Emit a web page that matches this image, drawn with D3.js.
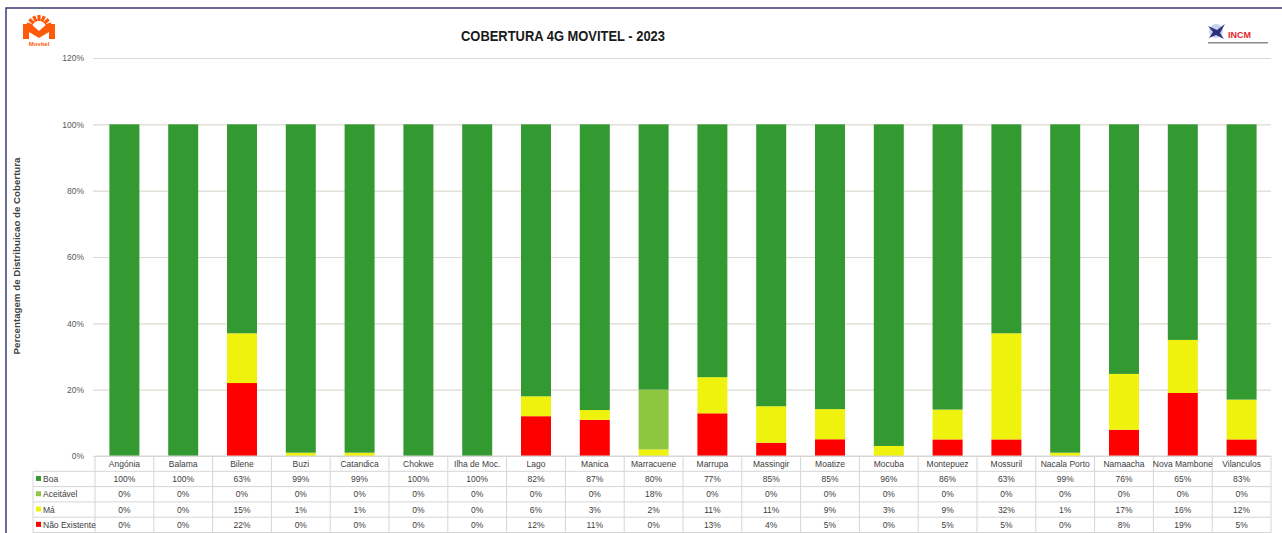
<!DOCTYPE html>
<html>
<head>
<meta charset="utf-8">
<script src="https://cdn.jsdelivr.net/npm/d3@7"></script>
<style>
  body { margin: 0; background: #fff; }
  svg { display: block; }
</style>
</head>
<body>
<div class="chart"></div>
<script>
// ======================================
// data
// ======================================
var categories = ["Angónia", "Balama", "Bilene", "Buzi", "Catandica", "Chokwe", "Ilha de Moc.", "Lago", "Manica", "Marracuene",
   "Marrupa", "Massingir", "Moatize", "Mocuba", "Montepuez", "Mossuril", "Nacala Porto", "Namaacha", "Nova Mambone", "Vilanculos"];
var boa          = [100, 100, 63, 99, 99, 100, 100, 82, 87, 80, 77, 85, 85, 96, 86, 63, 99, 76, 65, 83];
var aceitavel    = [0, 0, 0, 0, 0, 0, 0, 0, 0, 18, 0, 0, 0, 0, 0, 0, 0, 0, 0, 0];
var ma           = [0, 0, 15, 1, 1, 0, 0, 6, 3, 2, 11, 11, 9, 3, 9, 32, 1, 17, 16, 12];
var naoExistente = [0, 0, 22, 0, 0, 0, 0, 12, 11, 0, 13, 4, 5, 0, 5, 5, 0, 8, 19, 5];
var yTicks = [0, 20, 40, 60, 80, 100, 120];

// stacked bottom-up; table rows are listed top-down (reverse)
var series = [
   { key: "naoExistente", label: "Não Existente", color: "#ff0000", values: naoExistente },
   { key: "ma", label: "Má", color: "#eef20c", values: ma },
   { key: "aceitavel", label: "Aceitável", color: "#8dc63f", values: aceitavel },
   { key: "boa", label: "Boa", color: "#339a32", values: boa }
];

// ======================================
// dimensions
// ======================================
var W = 1282, H = 533;
var plot = { left: 95, right: 1271, top: 58, bottom: 456 };
var rowH = 15.3;
var font = "'Liberation Sans', Arial, sans-serif";

var svg = d3.select('.chart')
   .append('svg')
   .attr('width', W)
   .attr('height', H)
   ;

// outer frame
svg.append('rect')
   .attr('x', 6).attr('y', 8)
   .attr('width', W).attr('height', H)
   .attr('fill', 'none')
   .attr('stroke', '#3c3c78')
   .attr('stroke-width', 1.5);

// ======================================
// scales
// ======================================
var x = d3.scaleBand()
   .domain(categories)
   .range([plot.left, plot.right])
   .paddingInner(0.49)
   .paddingOuter(0.245);

var y = d3.scaleLinear()
   .domain([0, 1.2])
   .range([plot.bottom, plot.top]);

// gridlines + y axis
var yAxis = d3.axisLeft(y)
   .tickValues(yTicks.map(function(t){ return t / 100; }))
   .tickSize(-(plot.right - plot.left + 2))
   .tickPadding(9)
   .tickFormat(d3.format('.0%'));

var gy = svg.append('g')
   .attr('transform', 'translate(' + (plot.left - 2) + ',0)')
   .call(yAxis);
gy.select('.domain').remove();
gy.selectAll('.tick line').attr('stroke', '#dcd9d0').attr('stroke-width', 1.2);
gy.selectAll('.tick text')
   .attr('font-family', font)
   .attr('font-size', '8.5px')
   .attr('fill', '#595959');

// ======================================
// stacked bars (each column shown as share of 100%)
// ======================================
var rows = categories.map(function(c, i){
   var r = { cat: c };
   series.forEach(function(s){ r[s.key] = s.values[i]; });
   return r;
});
var stack = d3.stack()
   .keys(series.map(function(s){ return s.key; }))
   .offset(d3.stackOffsetExpand);
var layers = stack(rows);

svg.selectAll('g.layer')
   .data(layers)
   .enter()
   .append('g')
      .attr('class', 'layer')
      .attr('fill', function(d, i){ return series[i].color; })
   .selectAll('rect')
   .data(function(d){ return d; })
   .enter()
   .append('rect')
      .attr('x', function(d){ return x(d.data.cat); })
      .attr('width', x.bandwidth())
      .attr('y', function(d){ return y(d[1]); })
      .attr('height', function(d){ return y(d[0]) - y(d[1]); })
   ;

// ======================================
// data table under the plot
// ======================================
var colW = (plot.right - plot.left) / categories.length;
var tableRows = series.slice().reverse();
var legendLeft = 33;
var gridColor = '#d6d6d6';
var tbl = svg.append('g');

// horizontal lines
tbl.append('line')
   .attr('x1', plot.left).attr('x2', plot.right)
   .attr('y1', plot.bottom).attr('y2', plot.bottom)
   .attr('stroke', gridColor);
for (var r = 1; r <= tableRows.length + 1; r++){
   tbl.append('line')
      .attr('x1', legendLeft).attr('x2', plot.right)
      .attr('y1', plot.bottom + r * rowH).attr('y2', plot.bottom + r * rowH)
      .attr('stroke', gridColor);
}
// vertical lines
for (var c = 0; c <= categories.length; c++){
   tbl.append('line')
      .attr('x1', plot.left + c * colW).attr('x2', plot.left + c * colW)
      .attr('y1', plot.bottom).attr('y2', H)
      .attr('stroke', gridColor);
}
tbl.append('line')
   .attr('x1', legendLeft).attr('x2', legendLeft)
   .attr('y1', plot.bottom + rowH).attr('y2', H)
   .attr('stroke', gridColor);

// header: categories
tbl.selectAll('text.cat')
   .data(categories)
   .enter()
   .append('text')
      .attr('class', 'cat')
      .text(function(d){ return d; })
      .attr('x', function(d){ return x(d) + x.bandwidth() / 2; })
      .attr('y', plot.bottom + rowH / 2 + 3)
      .attr('text-anchor', 'middle')
      .attr('font-family', font)
      .attr('font-size', '8.5px')
      .attr('fill', '#404040');

// body rows
tableRows.forEach(function(s, ri){
   var yMid = plot.bottom + (ri + 1) * rowH + rowH / 2;
   tbl.append('rect')
      .attr('x', legendLeft + 3).attr('y', yMid - 3)
      .attr('width', 5).attr('height', 5)
      .attr('fill', s.color);
   tbl.append('text')
      .text(s.label)
      .attr('x', legendLeft + 10).attr('y', yMid + 3)
      .attr('font-family', font)
      .attr('font-size', '8.5px')
      .attr('fill', '#404040');
   tbl.selectAll('text.v' + ri)
      .data(s.values)
      .enter()
      .append('text')
         .text(function(d){ return d + '%'; })
         .attr('x', function(d, i){ return x(categories[i]) + x.bandwidth() / 2; })
         .attr('y', yMid + 3)
         .attr('text-anchor', 'middle')
         .attr('font-family', font)
         .attr('font-size', '8.5px')
         .attr('fill', '#404040');
});

// ======================================
// titles
// ======================================
svg.append('text')
   .text('COBERTURA 4G MOVITEL - 2023')
   .attr('x', 563).attr('y', 41)
   .attr('text-anchor', 'middle')
   .attr('font-family', font)
   .attr('font-weight', 'bold')
   .attr('font-size', '15px')
   .attr('textLength', 204)
   .attr('lengthAdjust', 'spacingAndGlyphs')
   .attr('fill', '#1a1a1a');

svg.append('text')
   .text('Percentagem de Distribuicao de Cobertura')
   .attr('transform', 'translate(20,256) rotate(-90)')
   .attr('text-anchor', 'middle')
   .attr('font-family', font)
   .attr('font-weight', 'bold')
   .attr('font-size', '9px')
   .attr('textLength', 197)
   .attr('lengthAdjust', 'spacingAndGlyphs')
   .attr('fill', '#404040');

// ======================================
// logos (simple drawn marks)
// ======================================
var mv = svg.append('g').attr('transform', 'translate(39,28)');
var rays = [-72, -48, -24, 0, 24, 48, 72];
rays.forEach(function(a){
   mv.append('rect')
      .attr('x', -1.6).attr('y', -13)
      .attr('width', 3.2).attr('height', 6)
      .attr('fill', '#ff5a0a')
      .attr('transform', 'rotate(' + a + ')');
});
mv.append('path')
   .attr('d', 'M-16,-4 L-8,-4 L0,3 L8,-4 L16,-4 L16,11 L10,11 L10,4 L0,10 L-10,4 L-10,11 L-16,11 Z')
   .attr('fill', '#ff5a0a');
mv.append('text')
   .text('Movitel')
   .attr('x', 0).attr('y', 17.5)
   .attr('text-anchor', 'middle')
   .attr('font-family', font)
   .attr('font-weight', 'bold')
   .attr('font-size', '6px')
   .attr('fill', '#ff5a0a');

var inc = svg.append('g').attr('transform', 'translate(1206,22)');
inc.append('circle')
   .attr('cx', 10).attr('cy', 9).attr('r', 7)
   .attr('fill', '#c9d3ea');
inc.append('path')
   .attr('d', 'M2,4 L11,8 L19,2 L14,11 L18,17 L10,13 L3,16 L7,10 Z')
   .attr('fill', '#2b2f7c');
inc.append('text')
   .text('INCM')
   .attr('x', 22).attr('y', 16)
   .attr('font-family', font)
   .attr('font-weight', 'bold')
   .attr('font-size', '9px')
   .attr('fill', '#e3262b');
inc.append('rect')
   .attr('x', 2).attr('y', 20)
   .attr('width', 60).attr('height', 1.5)
   .attr('fill', '#8c8c8c');
</script>
</body>
</html>
